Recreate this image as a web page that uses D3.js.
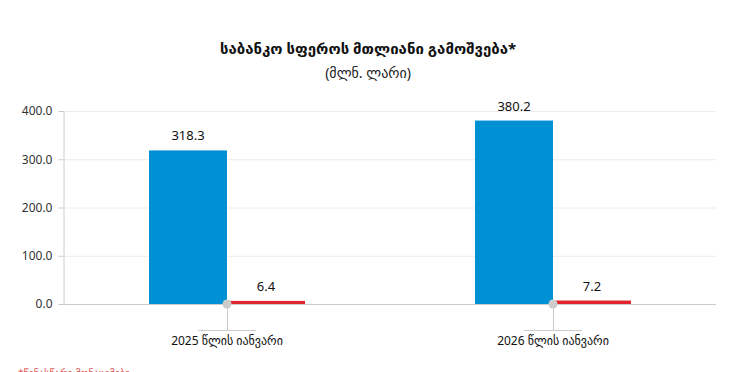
<!DOCTYPE html>
<html>
<head>
<meta charset="utf-8">
<script src="https://cdn.jsdelivr.net/npm/d3@7"></script>
<style>
body { margin: 0; background: #fff; }
text { font-family: "Noto Sans", "DejaVu Sans", sans-serif; }
</style>
</head>
<body>
<div id="chart"></div>
<script>
var categories = ["2025 წლის იანვარი", "2026 წლის იანვარი"];
var totalValues = [318.3, 380.2];
var secondValues = [6.4, 7.2];
var yTicks = [0, 100, 200, 300, 400];

var svgWidth = 747;
var svgHeight = 372;

var margin = { top: 111, right: 31, bottom: 68, left: 64 };
var chartWidth = svgWidth - margin.left - margin.right;
var chartHeight = svgHeight - margin.top - margin.bottom;

var svg = d3.select("#chart")
    .append("svg")
    .attr("width", svgWidth)
    .attr("height", svgHeight);

svg.append("text")
    .attr("x", 368)
    .attr("y", 54)
    .attr("text-anchor", "middle")
    .attr("font-size", "15px")
    .attr("font-weight", "bold")
    .attr("fill", "#111")
    .text("საბანკო სფეროს მთლიანი გამოშვება*");

svg.append("text")
    .attr("x", 368)
    .attr("y", 78)
    .attr("text-anchor", "middle")
    .attr("font-size", "14px")
    .attr("fill", "#222")
    .text("(მლნ. ლარი)");

var chartGroup = svg.append("g")
    .attr("transform", `translate(${margin.left}, ${margin.top})`);

var xScale = d3.scaleBand()
    .domain(categories)
    .range([0, chartWidth]);

var yScale = d3.scaleLinear()
    .domain([0, 400])
    .range([chartHeight, 0]);

// gridlines
chartGroup.selectAll("line.grid")
    .data(yTicks.slice(1))
    .enter()
    .append("line")
    .classed("grid", true)
    .attr("x1", 0)
    .attr("x2", chartWidth)
    .attr("y1", d => yScale(d) + 0.5)
    .attr("y2", d => yScale(d) + 0.5)
    .attr("stroke", "#ececec");

var leftAxis = d3.axisLeft(yScale)
    .tickValues(yTicks)
    .tickFormat(d3.format(".1f"))
    .tickSize(5)
    .tickPadding(6);

var yAxisG = chartGroup.append("g")
    .attr("transform", "translate(-0.5,0)")
    .call(leftAxis);
yAxisG.select(".domain").attr("stroke", "#ccc");
yAxisG.selectAll(".tick line").attr("stroke", "#ccc");
yAxisG.selectAll(".tick text")
    .attr("font-size", "12px")
    .attr("fill", "#333")
    .style("font-family", "'Noto Sans', sans-serif");

var barWidth = 78;

chartGroup.selectAll("rect.total")
    .data(totalValues)
    .enter()
    .append("rect")
    .classed("total", true)
    .attr("x", (d, i) => xScale(categories[i]) + xScale.bandwidth() / 2 - barWidth)
    .attr("y", d => yScale(d))
    .attr("width", barWidth)
    .attr("height", d => chartHeight - yScale(d))
    .attr("fill", "#0091d5");

chartGroup.selectAll("rect.second")
    .data(secondValues)
    .enter()
    .append("rect")
    .classed("second", true)
    .attr("x", (d, i) => xScale(categories[i]) + xScale.bandwidth() / 2)
    .attr("y", d => yScale(d))
    .attr("width", barWidth)
    .attr("height", d => chartHeight - yScale(d))
    .attr("fill", "#e0262e");

// x axis line
chartGroup.append("line")
    .attr("x1", 0)
    .attr("x2", chartWidth)
    .attr("y1", chartHeight + 0.5)
    .attr("y2", chartHeight + 0.5)
    .attr("stroke", "#ccc");

// value labels
chartGroup.selectAll("text.total-label")
    .data(totalValues)
    .enter()
    .append("text")
    .classed("total-label", true)
    .attr("x", (d, i) => xScale(categories[i]) + xScale.bandwidth() / 2 - barWidth / 2)
    .attr("y", d => yScale(d) - 10)
    .attr("text-anchor", "middle")
    .attr("font-size", "13px")
    .attr("fill", "#111")
    .text(d => d.toFixed(1));

chartGroup.selectAll("text.second-label")
    .data(secondValues)
    .enter()
    .append("text")
    .classed("second-label", true)
    .attr("x", (d, i) => xScale(categories[i]) + xScale.bandwidth() / 2 + barWidth / 2)
    .attr("y", d => yScale(d) - 10)
    .attr("text-anchor", "middle")
    .attr("font-size", "13px")
    .attr("fill", "#111")
    .text(d => d.toFixed(1));

// category markers
var catG = chartGroup.selectAll("g.cat")
    .data(categories)
    .enter()
    .append("g")
    .classed("cat", true)
    .attr("transform", d => `translate(${xScale(d) + xScale.bandwidth() / 2}, ${chartHeight})`);

catG.append("line")
    .attr("x1", 0.5).attr("x2", 0.5)
    .attr("y1", 0).attr("y2", 26)
    .attr("stroke", "#ccc");

catG.append("line")
    .attr("x1", -29).attr("x2", 29)
    .attr("y1", 26.5).attr("y2", 26.5)
    .attr("stroke", "#ccc");

catG.append("circle")
    .attr("r", 4.5)
    .attr("fill", "#ccc");

catG.append("text")
    .attr("y", 41)
    .attr("text-anchor", "middle")
    .attr("font-size", "12px")
    .attr("fill", "#111")
    .text(d => d);

// footnote, cut by the bottom edge as in the source
svg.append("text")
    .attr("x", 18)
    .attr("y", 377)
    .attr("font-size", "10px")
    .attr("fill", "#e05050")
    .text("*წინასწარი მონაცემები");
</script>
</body>
</html>
